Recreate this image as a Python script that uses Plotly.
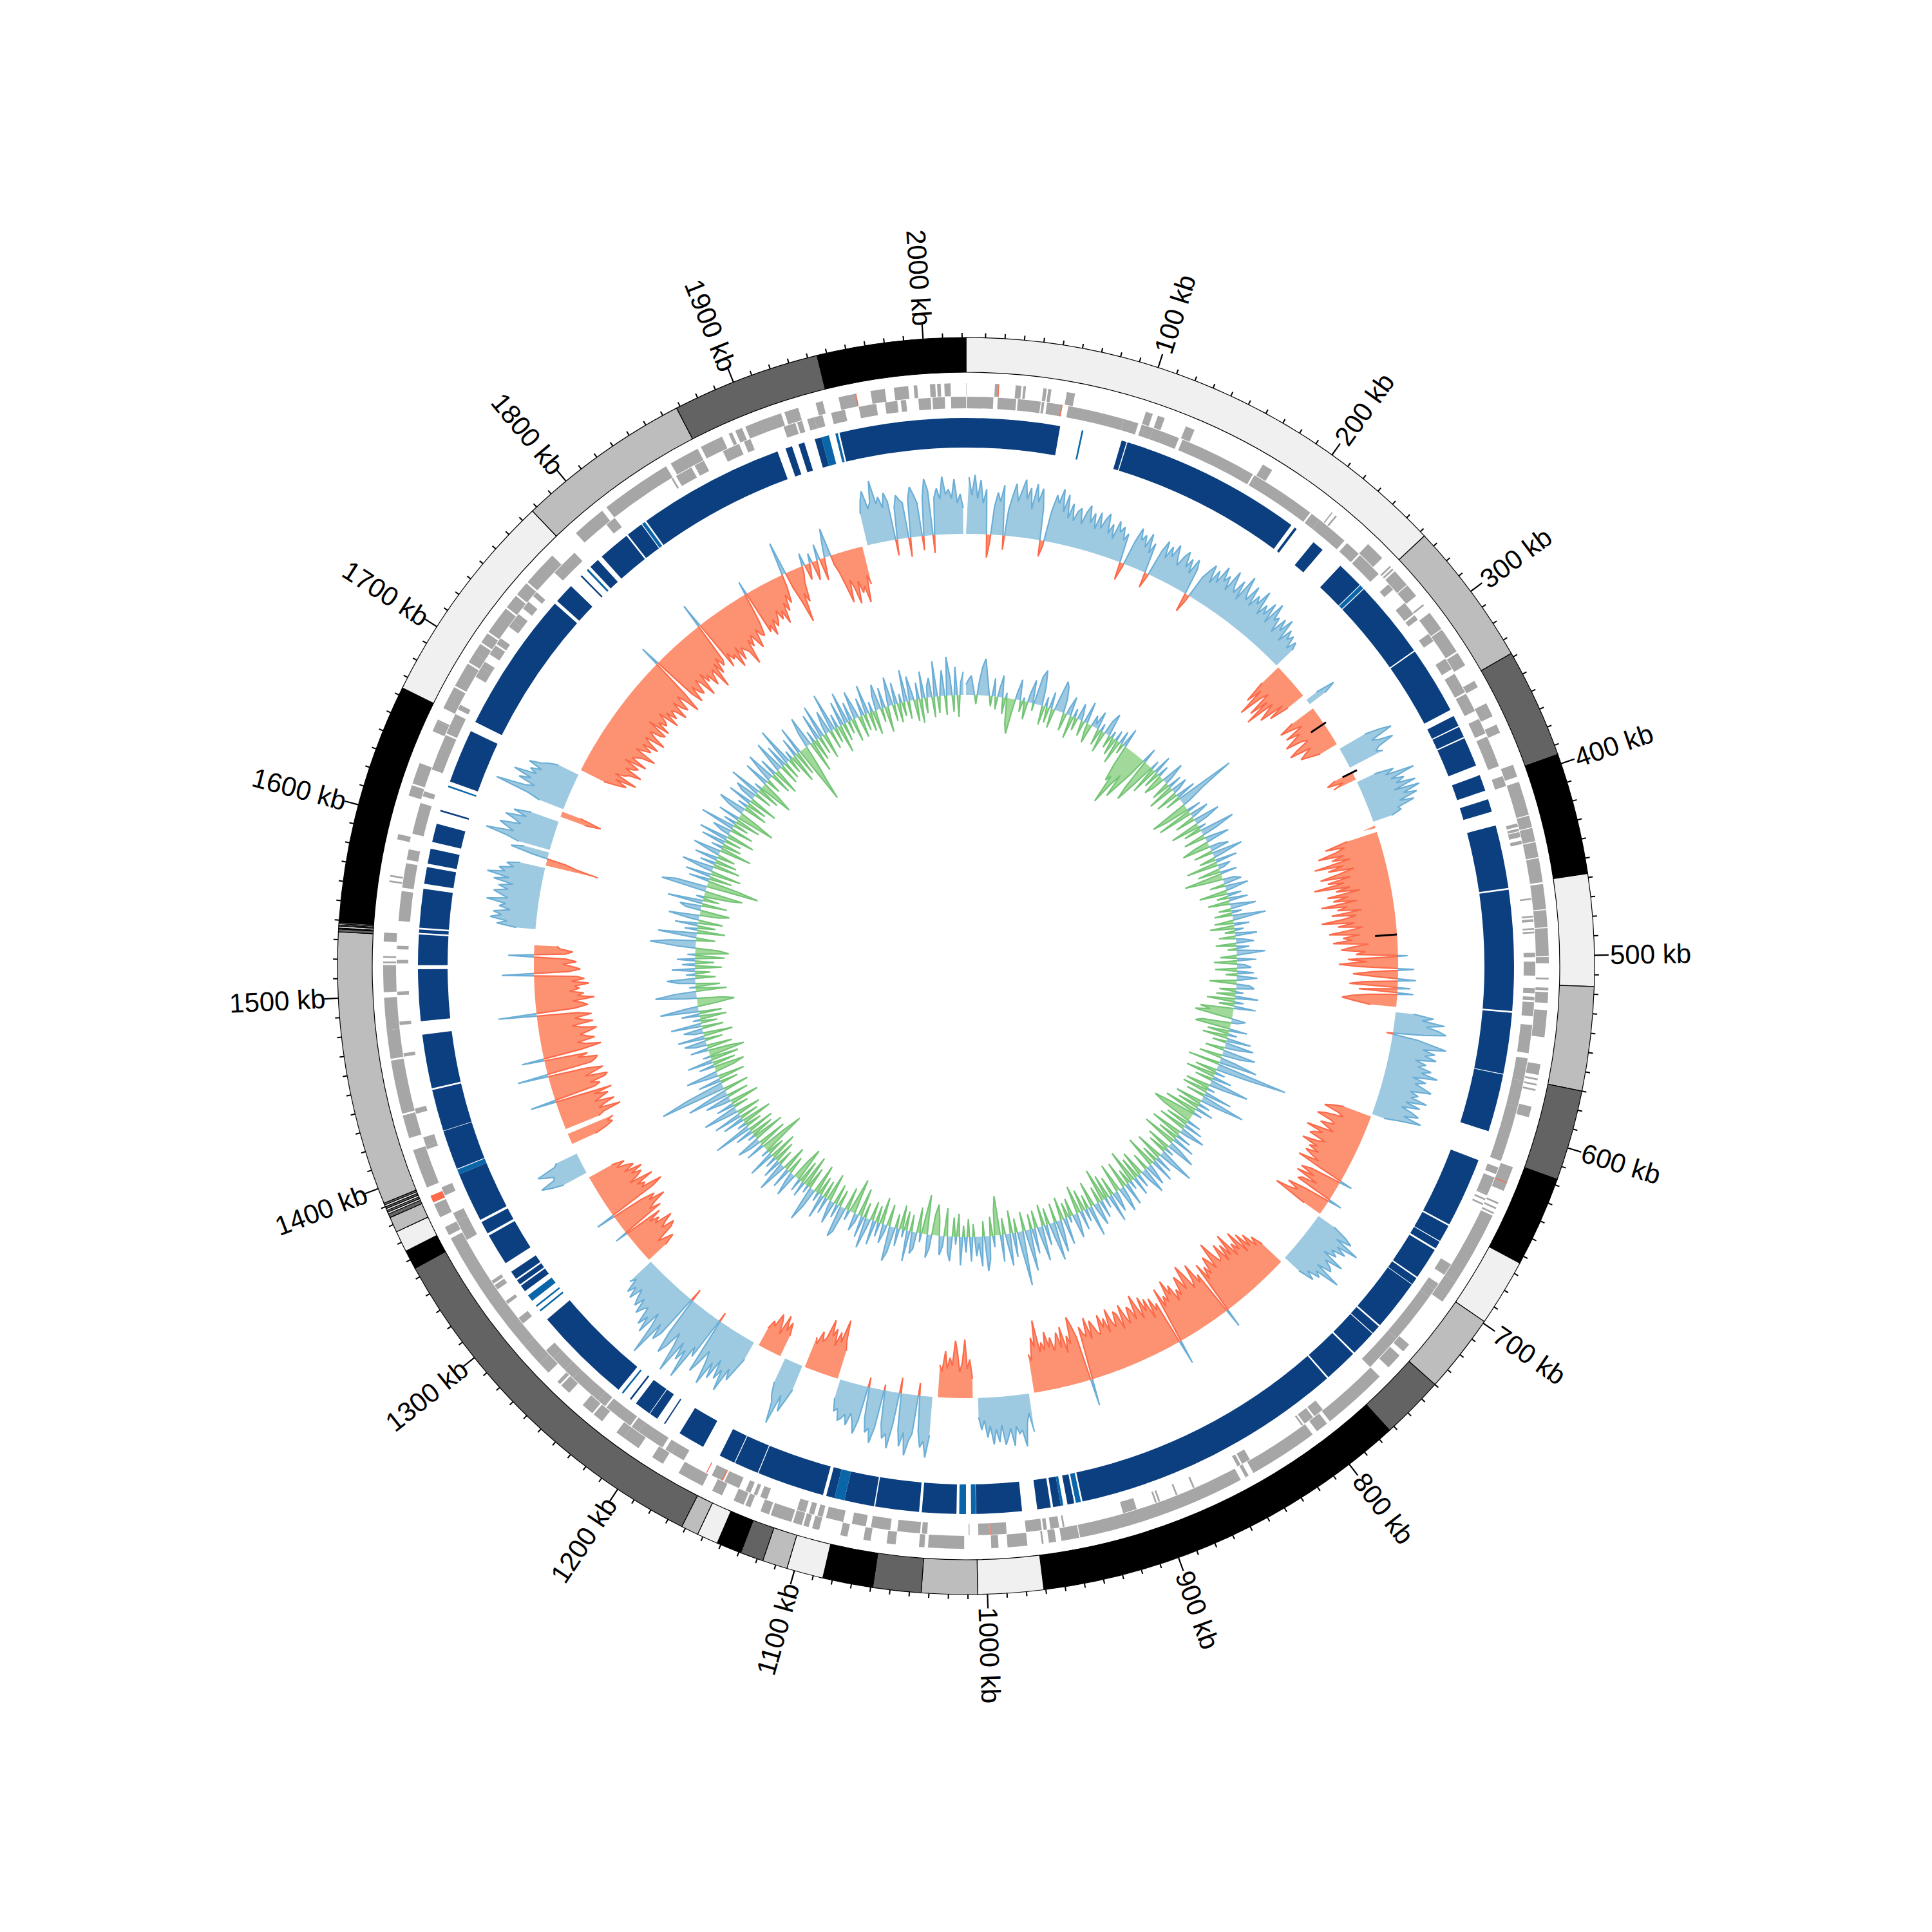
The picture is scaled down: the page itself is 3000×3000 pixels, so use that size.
import math
import plotly.graph_objects as go

GENOME_KB = 2022

# ---------- ideogram ----------
band_edges = [0, 263, 338, 395, 458, 516, 570, 617, 664, 699, 740, 773, 971, 1005, 1034, 1059, 1085, 1104,
              1117, 1129, 1142, 1153, 1162, 1355, 1365, 1376, 1384, 1386, 1387, 1388, 1389, 1390, 1391, 1392,
              1534, 1535.5, 1536, 1537, 1537.6, 1538.2, 1539, 1539.4, 1540, 1664, 1777, 1868, 1945, 2022]
band_tones = ["light", "grey", "dark", "black", "light", "grey", "dark", "black", "light", "grey", "dark", "black",
              "light", "grey", "dark", "black", "light", "grey", "dark", "black", "light", "grey", "dark", "black",
              "light", "grey", "dark", "light", "dark", "light", "dark", "light", "dark", "grey",
              "dark", "black", "light", "dark", "light", "dark", "light", "black", "black", "light", "grey", "dark", "black"]
tone_colors = {"light": "#f0f0f0", "grey": "#bdbdbd", "dark": "#636363", "black": "#000000"}

major_ticks = list(range(100, 2001, 100))
minor_ticks = [k for k in range(0, 2021, 10) if k % 100 != 0]

# ---------- gene rows (start, end in kb) ----------
outer_genes = [(0,0.2),(16,18.3),(27.5,30.7),(31.8,33.2),(42.9,44.8),(45.6,47.4),(56,60.6),(101,105),(108,112),(124.5,129.7),
 (172,178),(218.3,219),(221,222),(245,256),(262,263),(264,265),(266,276),(276.5,284),(290,291),(296,307),(307.5,322),
 (323,331),(341,345),(355,363),(368,373),(392,399),(402,421),(421.5,428),(428.5,436),(436.5,445),(445.5,459),(460,474),
 (474.5,484),(484.5,500),(500.5,504),(512,513),(517.5,519),(520,526),(530,545),(560,566),(568,569),(571,572),(574,575),
 (584,590),(619,633),(640,641),(643,644),(646,647),(648,690),(690,703),(733,738),(741,750),(757,794),(796,803),(806,845),
 (848,850),(853,947.5),(948,958),(961,965),(968,969),(977,988),(993,997),(1012,1032),(1034,1037),(1050,1055),(1064,1068),
 (1077,1081),(1093,1097),(1099,1102),(1103,1108),(1109,1121),(1122,1127),(1133,1136),(1137,1143),(1150,1156),(1162,1177),
 (1187,1194),(1203,1213),(1213,1218),(1228,1234),(1235,1242),(1252,1258),(1259,1261),(1268,1275),(1275,1288),(1288,1360),
 (1362,1367),(1373,1381),(1391,1413),(1420,1433),(1434,1464),(1465,1481),(1481,1499),(1502,1517),(1518,1519),(1521,1522),
 (1530,1535),(1563,1564),(1566,1567),(1587,1590),(1612,1618),(1619,1631),(1650,1656),(1656,1657),(1664,1677),(1678,1692),
 (1693,1699),(1699,1705),(1706,1712),(1713,1729),(1730,1738),(1739,1747),(1748,1768),(1786,1805),(1808,1848),(1851,1868),
 (1870,1883),(1887,1889),(1891,1895),(1897,1918),(1920,1928),(1938,1942),(1951,1961),(1969,1977),(1982,1990),(1993,1995),
 (2002,2005),(2006,2008),(2010,2013.5)]
inner_genes = [(1995,2002),(2003,2010),(2013.5,2022),(0.4,15.5),(18,28.5),(29.4,42.4),(43,44.5),(46,54.5),(58.2,90.6),(90.6,99),
 (101,108),(108,123.4),(125.6,170),(171,209),(210,215.6),(215.6,234),(236,245),(246,261),(269,273),(283,291),(292,295),
 (305,310),(322,329),(332,344),(345,356),(361,370),(372,390),(396,402),(424,426),(427,428.5),(429,432),(434,436),(467,468),
 (477,478),(479,480.5),(484,485),(486,487),(498,500.5),(503,511),(518,521),(523,525),(526,534),(539,555),(558,571),(571,586),
 (586,618),(622,626),(628,638),(638,639),(641,642),(644,645),(683,690),(696,700),(700,705),(705,735),(735,757),(793,799),
 (800,806),(807,808),(843,848),(849,851),(878,879),(888.5,889.5),(899,900),(901,902),(913,921),(955,956),(958,963),(965,967),
 (968,977),(988,997),(997.5,1004),(1009,1009.5),(1033,1036),(1037,1050),(1054,1065),(1068,1076),(1081,1091),(1093,1096),
 (1098,1101),(1103,1108),(1126,1130),(1132,1134),(1136,1139),(1143,1152),(1153,1160),(1178,1186),(1186,1190),(1192,1208),
 (1208,1213),(1214,1231),(1232,1237),(1237,1256),(1256,1263),(1263,1272),(1272,1278),(1298,1302),(1312,1314),(1322,1325),
 (1326,1328),(1355,1367),(1367,1372),(1383,1388),(1411,1413),(1413,1418),(1432,1435),(1465,1467),(1483,1485),(1500,1502),
 (1518,1520),(1526,1528),(1542,1559),(1561,1575),(1577,1583),(1592,1610),(1614,1617),(1630,1651),(1652,1664),(1667,1670),
 (1688,1694),(1694,1698),(1703,1709),(1710,1714),(1722,1726),(1726,1731),(1735,1740),(1744,1747),(1762,1778),(1802,1808),
 (1847,1848),(1850,1860),(1862,1868),(1880,1890),(1893,1897),(1917,1924),(1925,1928),(1931,1935),(1935,1940),(1945,1953),
 (1961,1971),(1976,1983),(1985,1988)]
outer_red_genes = [(18,18.4),(628,628.5),(1382,1386),(1960.5,1961)]
inner_red_genes = [(54.3,54.9),(997,997.5),(1153,1153.6),(1163,1163.5)]

# ---------- contig ring (start, end in kb) ----------
dark_blocks = [(0,55.6),(92.7,95.7),(96.3,204.6),(207,208.5),(221,228),(242,258),(261.5,308),(308.8,349),(353,359.5),(360.2,366.7),
 (367.5,385),(391,400.7),(406,413.6),(422,459.5),(460.5,532),(533,569.3),(569.7,604),(622,663.5),(664.5,674.7),(675.2,679.7),
 (680.8,699.6),(700.5,704.8),(705.2,735.5),(736.5,741.7),(742.2,757.5),(758.5,778.5),(779.5,942),(947,951),(955,959.6),(961,969),
 (978,1005),(1016.6,1037),(1038.6,1064.6),(1065.3,1083),(1089,1094),(1096,1136),(1136.5,1151),(1151.5,1161),(1172,1188),(1198,1198.8),
 (1203.6,1208.8),(1209.2,1219),(1222.5,1223.5),(1232,1291),(1312,1316),(1317,1320),(1321,1326),(1332,1351),(1352.5,1360),(1361.5,1391),
 (1394.5,1418),(1418.3,1443),(1444,1476),(1484,1514.6),(1517,1535),(1536,1538),(1539,1562),(1565,1575),(1577,1586),(1590,1601),
 (1608.5,1609.5),(1627,1659),(1665,1749),(1751,1763),(1771,1772),(1779,1785),(1788,1807),(1808,1818),(1821.5,1909),(1914,1918),
 (1922,1925.6),(1932,1936),(1947,2022)]
light_blocks = [(68.5,69.5),(258.5,261),(943,946),(953.5,955),(1005.2,1008),(1011,1015),(1083,1089),(1228.5,1229.5),(1297,1298),
 (1300.5,1301.5),(1305,1309),(1391,1394),(1623.5,1624.5),(1776,1777.2),(1818.5,1820.5),(1936,1940.6),(1944.5,1946)]

# ---------- outer skew track: each run starts at a kb position, 2 kb per value ----------
outer_starts = [0,260,292,300,336,356,364,400,404,540,620,704,748,964,1006,1036,1108,1136,1154,1176,1276,1356,1380,1392,1544,1592,1604,1630,1636,1668,1948]
outer_runs = [
 [0,88,60,92,55,84,48,70,-36,-10,44,66,52,78,-22,40,
  62,82,55,72,90,60,78,46,86,58,80,50,-25,-8,48,74,
  62,85,50,78,42,66,40,56,62,38,58,70,44,60,36,64,
  40,56,66,36,52,30,60,44,54,34,46,-28,-6,38,62,44,
  54,36,60,30,48,-24,-4,42,60,34,55,40,62,44,32,50,
  60,36,52,30,56,42,-30,-10,36,50,62,34,58,40,70,48,
  60,38,74,52,42,66,36,80,54,44,72,40,62,50,76,38,
  58,44,68,36,74,48,56,32,60,42,66,30,54,40,50,30,46,34],
 [-35,-70,-45,-90,-55,-40,-80,-50,-92,-45,-60,-75,-35,-62,-30],
 [20,50,30],
 [-40,-65,-45,-30,-62,-40,-55,-70,-42,-35,-58,-72,-38,-50,-60,-45,-30],
 [45,70,87,50,60,82,55,48,58],
 [-30,-45,-20,-38],
 [30,60,45,90,50,70,55,85,48,88,60,80,50,72,44,47,30],
 [-20],
 [-48,-85,-55,-70,-100,-60,-80,-52,-110,-65,-90,-50,-75,-105,-58,-95,-70,-118,-62,-85,-48,-100,-68,-92,-55,-112,-72,-88,-50,-98,
  -60,-80,-115,-64,-90,-52,-76,-105,-58,-84,-70,-100,-45,-72,-88,-50,-65,15,-78,-48,-92,-60,25,-40,-70,-30,28,-50,-75,20,-60,25,-45,-70,-85,-65,-40],
 [28,60,42,78,50,70,82,48,-10,40,62,86,50,70,55,74,42,60,48,70,
  55,82,44,66,50,64,78,46,60,50,76,44,68,40,58,70,48,77,44,20],
 [-45,-62,-74,-50,-40,-68,-80,-55,-48,-70,-58,-45,-88,-60,-72,-78,-50,-62,-85,-58,-70,-52,-72,-60,-45,-78,-40,20,-50,-65,
  -40,-68,-30,-55,-60,22,-40,-70,-50,-62,-85,-30],
 [30,55,68,44,86,52,70,48,60,40,78,50,62,68,45,89,50,60,40,55,30],
 [-40,-60,-45,-72,-52,-80,-48,-90,-60,-75,-55,-98,-62,-85,-58,-92,-70,-66,-82,-105,-62,-78,-88,-60,-75,
  -55,-85,30,-72,-60,-95,-70,-58,-85,-102,-64,-80,-90,-60,-72,-55,-84,-70,-96,-62,-74,-58,-90,38,-70,
  -60,-82,-50,-85,-66,-92,-58,-78,-100,-62,-80,-86,-60,-74,-94,-56,-82,-88,-64,-74,-96,-60,-84,-70,-92,
  -62,-66,-78,-88,-60,-95,-66,-72,-84,42,-70,-90,-104,-62,-76,-50,-92,-60,-85,-70,-58,-80,-65,-90,-62,-75,-60,-111,-70,-85,-50,-60],
 [60,30,45,81,55,60,48,78,50,64,75,44,70,50,73,44,62,35,50,30],
 [-30,-60,-45,-91,-55,-40,-70,-89,-50,-62,-45,-72,-40,-50],
 [60,95,70,80,55,-20,60,72,95,60,82,55,-24,50,88,66,74,52,-9,60,85,62,70,48,-15,54,76,58,46,66,50,58,62,44,50,30],
 [-45,-60,-92,-55,-70,-47,-73,-60,-85,-55,-47,-62,-40,-50],
 [40,60,80,55,103,70,60,40],
 [-35,-55,-40,-63,-30,-50,-60,-38,-45,-30],
 [30,50,72,55,95,62,80,50,85,60,100,66,48,72,90,-15,70,55,113,68,88,60,115,75,52,80,95,62,-20,70,
  85,60,118,72,50,90,65,82,54,60,72,48,65,54,40,62,44,58,35,45],
 [-35,-54,-42,-30,-60,-69,-48,-58,-73,-45,-55,-40,-62,20,-70,-52,-64,-85,-60,-72,-50,30,-78,-95,-62,-70,-58,-88,-50,-66,
  -75,-60,-80,-52,-70,-62,-45,-60,-40],
 [40,60,74,50,48,60,71,40,35],
 [-40,-60,-72,-65,-76],
 [-55,-65,-94,-60,-72,-88,-58,-70,-82,-60,-90,40,-66,-75,-60,-85,-90,-55,-72,-86,-60,48,-70,-78,-82,-52,-68,35,-60,-92,
  -68,-56,-84,-72,-62,-78,-90,-66,-52,-86,-70,-58,-85,-64,60,-60,-81,-72,-58,-92,-66,-76,-54,-70,-62,-85,-58,-78,-66,50,
  -54,-72,-60,-45,-66,-50,40,-48,-60,-40,-35],
 [30,61,45,72,55,68,42,60,50,81,48,60,72,50,66,44,75,52,87,60,70,48,60,40],
 [-83,-50,-30,25,60,40],
 [50,70,105,62,75,87,55,66,82,50,72,45],
 [-40,-65,-30],
 [40,60,115,70,55,83,65,95,60,72,55,78,60,50,35],
 [-40,-60,-75,-55,-88,-50,-65,-70,-89,-60,-72,-78,-52,-87,-60,-66,-75,-94,-58,-70,-80,-62,-88,-70,-60,
  -92,-72,-60,-78,-84,-50,-85,-62,-75,-70,-55,-88,-62,-80,-66,-72,-90,-60,-76,-84,-58,-70,-95,-62,32,
  -70,-90,-64,-78,-84,-60,-70,-95,-58,-76,-66,-88,-72,-65,-100,-60,-80,-55,-72,-64,39,-82,-60,-74,-68,
  -92,-60,-85,-66,-72,-78,-101,-62,-75,-58,-70,-84,-55,-66,-70,-48,21,-70,-60,-79,-55,-68,-60,-45,-62,
  -50,-72,-40,-55,-30,-45,-20,52,-25,-50,-85,-40,-55,-25,-12,20,-25,-10,15,-30,-12,25,-35,-8,20,45,-15,-30,-55,-80,
  -45,-60,-85,-50,-70,-60,-87,-45,-60],
 [50,70,84,55,64,97,60,70,52,75,60,-25,50,68,60,55,-30,60,78,66,52,-22,60,88,70,-28,58,72,55,90,62,70,55,85,48,62,40],
]

# ---------- inner skew track: 3 kb per value from 0 kb ----------
inner_values = [
 16,24,30,8,-14,20,44,57,30,6,-16,28,-20,12,34,-26,8,-40,-55,-22,10,32,-18,6,-28,14,36,-12,44,55,30,-30,16,-24,
 26,-30,12,48,40,22,-28,10,30,-36,14,-20,26,8,-24,34,-12,-30,18,6,28,-26,12,-34,22,36,-20,10,-28,16,-38,20,-16,30,
 -35,-60,-50,-96,-62,-40,-78,-55,-30,24,-48,-70,-38,14,-44,30,-26,18,-34,-20,36,12,-30,22,-42,26,10,-36,32,-24,95,40,12,-61,
 -40,22,-55,30,8,-32,42,18,-46,12,-28,55,24,-34,10,38,-22,-44,16,30,-30,48,14,-26,34,-50,20,8,-36,26,-60,-30,18,28,
 -24,36,10,-44,22,-18,30,-34,8,40,-20,16,-28,52,12,-30,24,-38,14,-16,34,-26,10,28,-32,20,-14,44,8,-26,30,-36,12,22,
 -34,26,-18,32,6,-42,20,28,-26,12,-30,36,-44,14,-24,34,-52,-36,-59,-24,22,10,-45,-55,28,-34,14,-40,38,-22,45,18,-30,52,
 30,-36,24,60,-50,112,50,-34,16,-46,30,-28,62,20,-38,12,-40,44,-30,70,26,-42,18,-34,28,-52,14,-40,-67,-48,22,-36,30,-44,
 40,12,-50,24,-32,36,-54,18,46,-38,14,-30,58,20,-44,28,-26,38,-50,10,34,-28,42,16,-40,22,-34,30,-52,14,-24,36,-42,18,
 40,-46,10,32,-30,44,-38,16,-52,28,-26,36,12,-40,48,-22,20,-34,30,-44,14,38,-28,10,-24,42,-36,18,50,-30,60,22,-26,32,
 -34,54,16,-28,40,-24,65,20,-30,85,30,-22,38,-36,50,14,-26,42,-61,-40,18,-30,36,54,-24,46,10,30,-20,38,-28,24,-18,44,
 -36,12,-30,38,24,-44,16,30,-24,-48,-32,22,36,-61,-28,14,-40,26,34,-26,48,-30,12,-38,28,-22,40,55,-34,10,30,-42,22,-26,
 38,-30,14,48,-24,34,-44,12,28,-55,-20,16,-36,40,50,-26,22,-32,36,10,-44,26,-28,38,-30,14,-46,30,55,-34,12,-50,24,-36,
 20,-54,-30,38,14,-28,32,-40,10,48,-24,30,-34,18,-44,42,-28,12,-71,-40,30,-46,18,38,-50,12,-36,28,-42,60,-26,14,-48,34,
 -30,44,-38,16,55,-24,28,-46,12,40,-34,65,22,-40,104,60,-28,36,-42,14,50,-30,-48,24,-36,40,-44,12,-56,-34,28,-40,18,34,
 -28,42,-46,14,30,-34,48,-26,12,-42,28,-36,60,22,-30,-58,-40,18,64,34,-48,10,-38,26,44,-32,14,-24,36,-42,20,-30,28,-46,
 12,-52,-36,30,71,40,-30,16,60,-44,20,-28,36,-38,14,48,-30,-46,24,34,-40,55,-26,12,-42,-60,71,50,-82,-50,32,-36,40,-48,
 16,50,-42,24,-34,36,-28,12,44,-50,18,-30,38,-26,46,-44,14,30,-36,55,-24,20,-40,34,-60,-30,26,44,-38,16,-32,38,-46,22,
 34,-28,50,-36,12,-55,-30,40,-24,18,46,-34,28,-42,10,50,-32,36,-28,60,-24,14,-46,30,-38,44,-92,-60,-30,24,48,-50,18,-34,
 42,-28,52,-40,14,36,-30,60,-24,22,-44,38,-28,50,-20,30,-36,44,12,-34,28,-26,46,-30,16,-38,24,40,-22,32,-40,12,45,-26,
 34,-30,14,-22,50,-28,38,10,-34,26,-38,42,-24,18,30,-32,55,-26,12,40,-30,60,28,-26,44,-34,20,36,
]

# black overlay marks (kb, radial from, radial to)
black_kb = [314, 356, 482]
black_from = [647, 654, 637]
black_to = [675, 679, 671]

# ---------- styling ----------
FIELD = 1040          # radial axis spans this many pixels
R_IDEO = (922, 976)
R_GENE_OUT = (885, 905)
R_GENE_IN = (866, 884)
R_RING = (805, 851)
BASE_OUTER = 671
BASE_INNER = 421
OUTER_STEP = 2
INNER_STEP = 3
BLUE_F, BLUE_L = "#9ecae1", "#6baed6"
RED_F, RED_L = "#fc9272", "#fb6a4a"
GREEN_F, GREEN_L = "#a1d99b", "#74c476"
RING_DARK, RING_LIGHT = "#0b3f80", "#0a66a8"
GENE_GREY, GENE_RED = "#a6a6a6", "#fb6a4a"
LABEL_FONT = dict(family="Liberation Sans, Arial, sans-serif", size=42, color="#000000")


def deg(kb):
    return kb * 360.0 / GENOME_KB


def ring(spans, radii, color, line=None):
    th = [deg((a + b) / 2) for a, b in spans]
    wd = [deg(b - a) for a, b in spans]
    colors = color if isinstance(color, list) else [color] * len(spans)
    return go.Barpolar(theta=th, width=wd, base=[radii[0]] * len(spans), r=[radii[1] - radii[0]] * len(spans),
                       marker=dict(color=colors, line=dict(color="#000000" if line else "rgba(0,0,0,0)", width=line or 0)),
                       hoverinfo="skip")


def split_sign(kbs, vals):
    """Cut a series at its zero crossings into positive and negative lobes."""
    pos, neg, cur, sign = [], [], [], 0
    for i, (k, v) in enumerate(zip(kbs, vals)):
        s = (v > 0) - (v < 0)
        if i and sign and s and s != sign:
            k0, v0 = kbs[i - 1], vals[i - 1]
            kc = k0 + (k - k0) * v0 / (v0 - v)
            cur.append((kc, 0))
            (pos if sign > 0 else neg).append(cur)
            cur = [(kc, 0)]
        if s:
            sign = s
        cur.append((k, v))
    if cur and sign:
        (pos if sign > 0 else neg).append(cur)
    return pos, neg


def lobes(groups, base, fill, line, edges=()):
    fth, fr, lth, lr = [], [], [], []
    for g in groups:
        ks = [p[0] for p in g]
        vs = [p[1] for p in g]
        fth += [deg(k) for k in ks] + [deg(k) for k in reversed(ks)] + [None]
        fr += [base + v for v in vs] + [base] * len(ks) + [None]
        shown = [p for p in g if not (p[1] == 0 and p[0] in edges)]
        lth += [deg(p[0]) for p in shown] + [None]
        lr += [base + p[1] for p in shown] + [None]
    return [go.Scatterpolar(theta=fth, r=fr, mode="none", fill="toself", fillcolor=fill, hoverinfo="skip"),
            go.Scatterpolar(theta=lth, r=lr, mode="lines", line=dict(color=line, width=2.2), hoverinfo="skip")]


fig = go.Figure()

# ideogram and ticks
spans = list(zip(band_edges[:-1], band_edges[1:]))
fig.add_trace(ring(spans, R_IDEO, [tone_colors[t] for t in band_tones], line=1.2))
for ticks, length, width in ((minor_ticks, 7, 2), (major_ticks, 22, 2.2)):
    th, rr = [], []
    for k in ticks:
        th += [deg(k), deg(k), None]
        rr += [R_IDEO[1], R_IDEO[1] + length, None]
    fig.add_trace(go.Scatterpolar(theta=th, r=rr, mode="lines", line=dict(color="#000000", width=width), hoverinfo="skip"))

# gene rows and contig ring
fig.add_trace(ring(outer_genes, R_GENE_OUT, GENE_GREY))
fig.add_trace(ring(inner_genes, R_GENE_IN, GENE_GREY))
fig.add_trace(ring(outer_red_genes, R_GENE_OUT, GENE_RED))
fig.add_trace(ring(inner_red_genes, R_GENE_IN, GENE_RED))
fig.add_trace(ring(dark_blocks, R_RING, RING_DARK))
fig.add_trace(ring(light_blocks, R_RING, RING_LIGHT))

# outer track, one run at a time so that blank stretches stay blank
for start, run in zip(outer_starts, outer_runs):
    kbs = [start + OUTER_STEP * i for i in range(len(run))]
    if len(run) == 1:
        kbs = [start - 1, start, start + 1]
        run = [0, run[0], 0]
    else:
        kbs = [kbs[0]] + kbs + [kbs[-1]]
        run = [0] + run + [0]
    ends = (kbs[0], kbs[-1])
    pos, neg = split_sign(kbs, run)
    for t in lobes(pos, BASE_OUTER, BLUE_F, BLUE_L, ends) + lobes(neg, BASE_OUTER, RED_F, RED_L, ends):
        fig.add_trace(t)

# black marks
th, rr = [], []
for k, a, b in zip(black_kb, black_from, black_to):
    th += [deg(k), deg(k), None]
    rr += [a, b, None]
fig.add_trace(go.Scatterpolar(theta=th, r=rr, mode="lines", line=dict(color="#000000", width=3), hoverinfo="skip"))

# inner track
kbs = [INNER_STEP * i for i in range(len(inner_values))]
pos, neg = split_sign(kbs, inner_values)
for t in lobes(pos, BASE_INNER, BLUE_F, BLUE_L) + lobes(neg, BASE_INNER, GREEN_F, GREEN_L):
    fig.add_trace(t)

# radial tick labels
annos = []
for k in major_ticks:
    a = deg(k)
    rad = 1071 if k >= 1000 else 1063
    angle = a - 90 if a <= 180 else a + 90
    annos.append(dict(text=f"{k} kb", showarrow=False, xref="paper", yref="paper", xanchor="center", yanchor="middle",
                      x=0.5 + rad * math.sin(math.radians(a)) / 3000, y=0.5 + rad * math.cos(math.radians(a)) / 3000,
                      textangle=angle, font=LABEL_FONT))

half = FIELD / 3000
fig.update_layout(
    width=3000, height=3000, margin=dict(l=0, r=0, t=0, b=0), showlegend=False,
    paper_bgcolor="#ffffff", plot_bgcolor="#ffffff", annotations=annos,
    polar=dict(domain=dict(x=[0.5 - half, 0.5 + half], y=[0.5 - half, 0.5 + half]), bgcolor="rgba(0,0,0,0)",
               barmode="overlay",
               radialaxis=dict(range=[0, FIELD], visible=False),
               angularaxis=dict(rotation=90, direction="clockwise", thetaunit="degrees", visible=False)),
)
fig.write_html("out.html", post_script="document.body.style.margin='0';", config=dict(displayModeBar=False))
